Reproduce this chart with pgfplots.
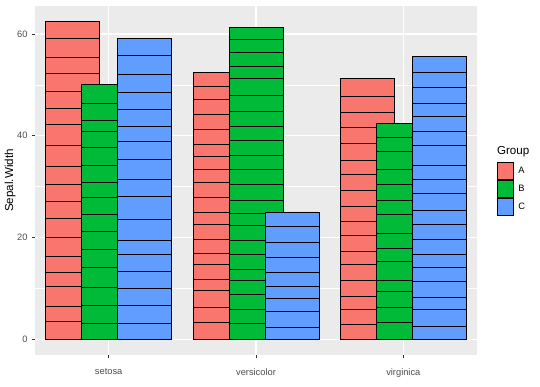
\documentclass[border=0pt]{standalone}
\usepackage{pgfplots}
\pgfplotsset{compat=1.18}
\usepackage{fontspec}
\setmainfont{Liberation Sans}
\definecolor{gA}{HTML}{F8766D}
\definecolor{gB}{HTML}{00BA38}
\definecolor{gC}{HTML}{619CFF}
\definecolor{panel}{HTML}{EBEBEB}
\definecolor{txt}{HTML}{4D4D4D}
\definecolor{tck}{HTML}{333333}
\begin{document}
\begin{tikzpicture}
\useasboundingbox[fill=white] (0,0) rectangle (540pt,386pt);
\begin{axis}[
  at={(35pt,31pt)}, anchor=south west,
  scale only axis, width=442pt, height=349pt,
  xmin=0.5, xmax=3.5, ymin=-3.12, ymax=65.5,
  ybar, bar width=0.366,
  axis background/.style={fill=panel},
  axis line style={draw=none},
  xtick={1,2,3}, xticklabels={setosa,versicolor,virginica},
  ytick={0,20,40,60}, minor ytick={10,30,50},
  xtick pos=bottom, ytick pos=left,
  grid=both,
  major grid style={white, line width=1.1pt},
  minor grid style={white, line width=0.55pt},
  tick align=outside, major tick length=3pt, minor tick length=0pt,
  tick style={tck, line width=0.55pt},
  /pgf/number format/assume math mode=true,
  ticklabel style={font=\fontsize{9.3}{11}\selectfont, text=txt},
  xticklabel style={yshift=-7pt},
  yticklabel style={xshift=-1pt},
  ylabel={Sepal.Width},
  ylabel style={font=\fontsize{11.6}{14}\selectfont, text=black, inner sep=0pt, yshift=-2pt},
  clip=false,
  legend image code/.code={\draw[#1,draw=black,line width=0.8pt] (0pt,-8.6pt) rectangle (15.5pt,8.6pt);},
  legend style={at={(rel axis cs:1.045,0.553)}, anchor=north west, draw=none, fill=none,
    font=\fontsize{9.3}{11}\selectfont, row sep=0pt, inner sep=0pt,
    nodes={inner xsep=5pt, inner ysep=0pt}},
  legend cell align=left,
]
\addplot[fill=gA, draw=black, line width=0.8pt, bar shift=-0.244] coordinates {
 (1,62.5)(1,59.2)(1,55.4)(1,52.3)(1,48.8)(1,45.3)(1,42.3)(1,38.0)(1,33.9)(1,30.5)(1,27.1)(1,23.7)(1,20.1)(1,16.3)(1,13.2)(1,10.3)(1,6.4)(1,3.5)
 (2,52.5)(2,49.7)(2,47.2)(2,44.2)(2,41.3)(2,38.2)(2,35.9)(2,33.3)(2,30.8)(2,27.8)(2,25.0)(2,22.5)(2,19.7)(2,16.8)(2,14.6)(2,11.8)(2,9.5)(2,6.3)(2,3.2)
 (3,51.2)(3,47.7)(3,44.6)(3,41.6)(3,38.4)(3,35.2)(3,32.4)(3,29.3)(3,26.1)(3,23.2)(3,20.3)(3,17.3)(3,14.6)(3,11.6)(3,8.5)(3,5.9)(3,2.9)
};
\addlegendentry{A}
\addplot[fill=gB, draw=black, line width=0.8pt, bar shift=0] coordinates {
 (1,50.1)(1,46.4)(1,43.1)(1,40.8)(1,37.7)(1,34.1)(1,30.8)(1,27.8)(1,24.6)(1,21.2)(1,17.6)(1,14.1)(1,10.1)(1,6.7)(1,3.0)
 (2,61.3)(2,59.0)(2,56.3)(2,53.7)(2,51.2)(2,47.9)(2,44.8)(2,41.9)(2,39.0)(2,36.1)(2,33.3)(2,30.4)(2,27.3)(2,24.7)(2,22.4)(2,19.5)(2,16.7)(2,13.7)(2,11.6)(2,8.8)(2,5.9)(2,3.0)
 (3,42.4)(3,39.7)(3,36.9)(3,33.3)(3,30.4)(3,27.3)(3,24.6)(3,20.8)(3,17.8)(3,15.2)(3,11.6)(3,9.3)(3,6.2)(3,3.3)
};
\addlegendentry{B}
\addplot[fill=gC, draw=black, line width=0.8pt, bar shift=0.244] coordinates {
 (1,59.2)(1,55.8)(1,52.1)(1,48.6)(1,45.2)(1,41.9)(1,38.8)(1,35.3)(1,31.5)(1,28.0)(1,23.6)(1,19.5)(1,16.7)(1,13.3)(1,10.0)(1,6.7)(1,3.1)
 (2,25.0)(2,22.2)(2,19.1)(2,16.1)(2,13.1)(2,10.3)(2,8.0)(2,5.4)(2,2.3)
 (3,55.6)(3,52.5)(3,49.5)(3,46.4)(3,43.7)(3,40.8)(3,38.0)(3,34.2)(3,31.5)(3,28.6)(3,25.4)(3,22.5)(3,19.7)(3,16.7)(3,14.2)(3,11.4)(3,8.3)(3,5.8)(3,2.6)
};
\addlegendentry{C}
\node[anchor=west, font=\fontsize{11.6}{14}\selectfont, inner sep=0pt] at (rel axis cs:1.045,0.582) {Group};
\end{axis}
\end{tikzpicture}
\end{document}
